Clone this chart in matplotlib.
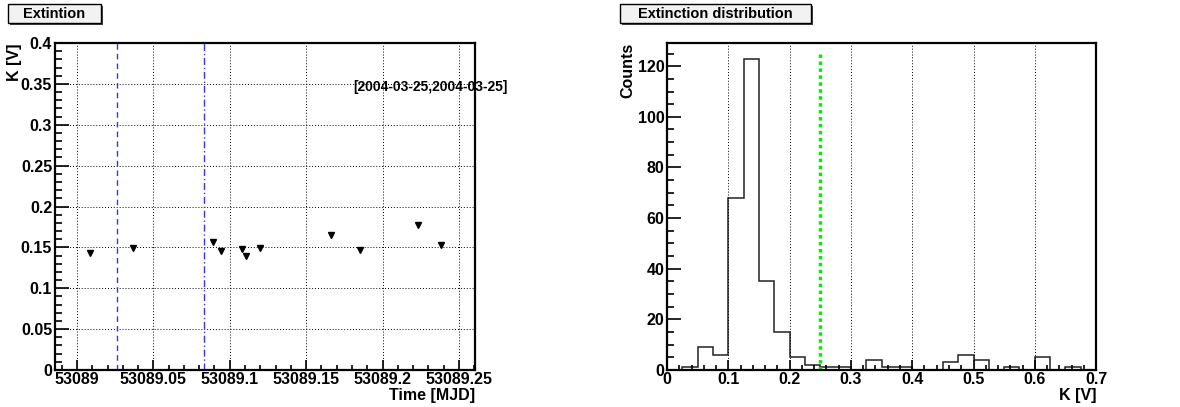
import numpy as np
import matplotlib
matplotlib.use('Agg')
import matplotlib.pyplot as plt
from matplotlib.patches import Rectangle
from matplotlib.ticker import MultipleLocator, FuncFormatter

plt.rcParams['font.family'] = ['Liberation Sans', 'DejaVu Sans']
plt.rcParams['font.weight'] = 'bold'

# left panel: extinction vs time
mjd = [53089.0085, 53089.0364, 53089.0889, 53089.0940, 53089.1080, 53089.1107,
       53089.1200, 53089.1663, 53089.1850, 53089.2234, 53089.2385]
ext = [0.143, 0.149, 0.157, 0.145, 0.148, 0.140, 0.149, 0.165, 0.147, 0.177, 0.153]
run_dashed = 53089.0262
run_dashdot = 53089.0833
date_range = '[2004-03-25,2004-03-25]'

# right panel: histogram
bin_lo, bin_w = 0.0, 0.025
counts = [0, 1, 9, 6, 68, 123, 35, 15, 5, 2, 1, 1, 0, 4,
          1, 1, 0, 0, 3, 6, 4, 0, 1, 0, 5, 0, 1, 0]
cut_value = 0.25
cut_top = 125

FS = 11.5
fig = plt.figure(figsize=(11.8, 4.07), dpi=100)


def frame(ax):
    for s in ax.spines.values():
        s.set_linewidth(1.6)
    ax.tick_params(which='both', direction='in', top=False, right=False,
                   labelsize=FS, width=1.2)
    for lab in ax.get_xticklabels() + ax.get_yticklabels():
        lab.set_fontweight('bold')


def title_box(x0, y0, w, h, text):
    W, H = 1180.0, 407.0
    sh = Rectangle(((x0 + 2) / W, 1 - (y0 + h + 2) / H), w / W, h / H,
                   transform=fig.transFigure, facecolor='#444444',
                   edgecolor='none', zorder=1)
    bx = Rectangle((x0 / W, 1 - (y0 + h) / H), w / W, h / H,
                   transform=fig.transFigure, facecolor='#f2f2f2',
                   edgecolor='black', linewidth=1.0, zorder=2)
    fig.patches.extend([sh, bx])
    fig.text((x0 + w / 2) / W, 1 - (y0 + h / 2) / H, text, ha='center',
             va='center', fontsize=10.5, fontweight='bold', zorder=3)


def trim(v, p):
    s = ('%.2f' % v).rstrip('0').rstrip('.')
    return s if s else '0'


# ---- left
ax1 = fig.add_axes([0.0466, 0.0909, 0.3559, 0.8034])
ax1.plot(mjd, ext, linestyle='none', marker='v', color='black', markersize=5)
ax1.axvline(run_dashed, color='#3333ff', linestyle=(0, (4, 3)), linewidth=1)
ax1.axvline(run_dashdot, color='#3333ff', linestyle=(0, (5, 2, 1, 2)), linewidth=1)
ax1.set_xlim(53088.9856, 53089.2605)
ax1.set_ylim(0, 0.4)
ax1.xaxis.set_major_locator(MultipleLocator(0.05))
ax1.xaxis.set_minor_locator(MultipleLocator(0.01))
ax1.yaxis.set_major_locator(MultipleLocator(0.05))
ax1.yaxis.set_minor_locator(MultipleLocator(0.01))
ax1.xaxis.set_major_formatter(FuncFormatter(trim))
ax1.yaxis.set_major_formatter(FuncFormatter(trim))
ax1.grid(True, which='major', color='black', linestyle=(0, (1, 2)), linewidth=0.7)
ax1.tick_params(axis='y', which='major', length=10, pad=2)
ax1.tick_params(axis='y', which='minor', length=5)
ax1.tick_params(axis='x', which='major', length=7, pad=1.5)
ax1.tick_params(axis='x', which='minor', length=3.5)
frame(ax1)
ax1.text(0.7095, 0.865, date_range, transform=ax1.transAxes, fontsize=10,
         fontweight='bold', va='center', ha='left')
ax1.set_xlabel('Time [MJD]', fontsize=FS, fontweight='bold', loc='right')
ax1.set_ylabel('K [V]', fontsize=FS, fontweight='bold', loc='top')
ax1.xaxis.set_label_coords(1.0, -0.056)
ax1.yaxis.set_label_coords(-0.078, 1.0)

# ---- right
ax2 = fig.add_axes([0.5653, 0.0909, 0.3636, 0.8034])
edges = bin_lo + bin_w * np.arange(len(counts) + 1)
ax2.stairs(counts, edges, color='#222222', linewidth=1.1)
ax2.plot([cut_value, cut_value], [0, cut_top], color='#00ee00',
         linestyle=(0, (1, 1)), linewidth=2.5)
ax2.set_xlim(0, 0.7)
ax2.set_ylim(0, max(counts) * 1.05)
ax2.xaxis.set_major_locator(MultipleLocator(0.1))
ax2.xaxis.set_minor_locator(MultipleLocator(0.02))
ax2.yaxis.set_major_locator(MultipleLocator(20))
ax2.yaxis.set_minor_locator(MultipleLocator(5))
ax2.xaxis.set_major_formatter(FuncFormatter(trim))
ax2.grid(True, axis='x', which='major', color='black', linestyle=(0, (1, 2)), linewidth=0.7)
ax2.tick_params(axis='y', which='major', length=10, pad=2)
ax2.tick_params(axis='y', which='minor', length=5)
ax2.tick_params(axis='x', which='major', length=7, pad=1.5)
ax2.tick_params(axis='x', which='minor', length=3.5)
frame(ax2)
ax2.set_xlabel('K [V]', fontsize=FS, fontweight='bold', loc='right')
ax2.set_ylabel('Counts', fontsize=FS, fontweight='bold', loc='top')
ax2.xaxis.set_label_coords(1.0, -0.056)
ax2.yaxis.set_label_coords(-0.074, 1.0)

title_box(8, 4, 93, 19, 'Extintion')
title_box(620, 4, 191, 19, 'Extinction distribution')

fig.savefig('out.png', dpi=100)
